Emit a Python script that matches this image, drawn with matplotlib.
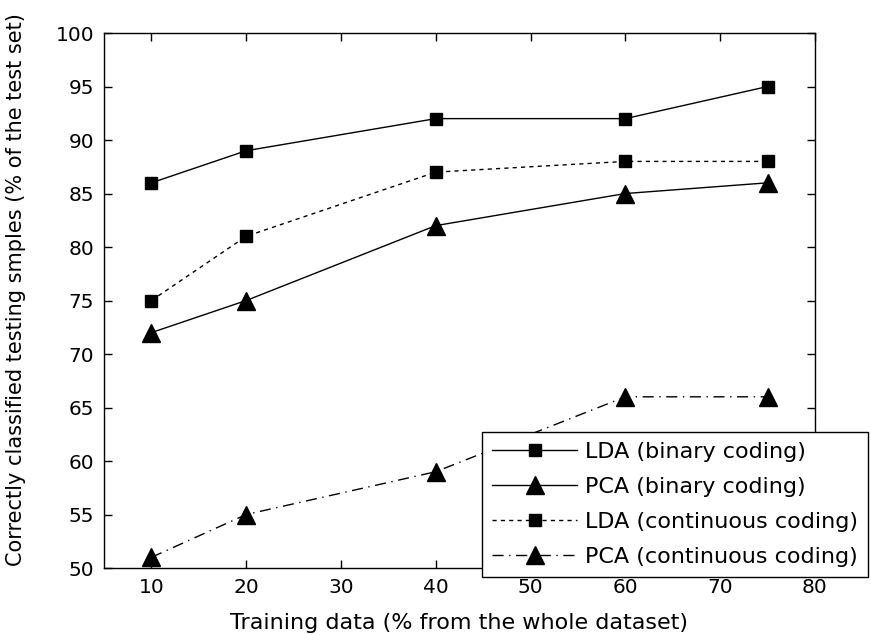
import matplotlib

matplotlib.use("Agg")
import matplotlib.pyplot as plt

# training share (% of the whole dataset)
train_pct = [10, 20, 40, 60, 75]

lda_binary = [86, 89, 92, 92, 95]
pca_binary = [72, 75, 82, 85, 86]
lda_continuous = [75, 81, 87, 88, 88]
pca_continuous = [51, 55, 59, 66, 66]

x_ticks = [10, 20, 30, 40, 50, 60, 70, 80]
y_ticks = [50, 55, 60, 65, 70, 75, 80, 85, 90, 95, 100]

plt.rcParams["font.family"] = ["DejaVu Sans"]

fig = plt.figure(figsize=(8.71, 6.35), dpi=100)
ax = fig.add_axes([0.1194, 0.1055, 0.8163, 0.8425])

ax.plot(train_pct, lda_binary, color="black", linestyle="-", linewidth=1.0,
        marker="s", markersize=9, label="LDA (binary coding)")
ax.plot(train_pct, pca_binary, color="black", linestyle="-", linewidth=1.0,
        marker="^", markersize=13, label="PCA (binary coding)")
ax.plot(train_pct, lda_continuous, color="black", linestyle=(0, (3, 3)), linewidth=1.0,
        marker="s", markersize=9, label="LDA (continuous coding)")
ax.plot(train_pct, pca_continuous, color="black", linestyle=(0, (8, 4, 1, 4)), linewidth=1.0,
        marker="^", markersize=13, label="PCA (continuous coding)")

ax.set_xlim(5, 80)
ax.set_ylim(50, 100)
ax.set_xticks(x_ticks)
ax.set_yticks(y_ticks)
ax.tick_params(direction="in", length=6, width=1, top=True, right=True,
               labelsize=14.5, colors="black", pad=7)
for spine in ax.spines.values():
    spine.set_linewidth(1.0)

ax.set_xlabel("Training data (% from the whole dataset)", fontsize=16, labelpad=12)
ax.set_ylabel("Correctly classified testing smples (% of the test set)", fontsize=15)
ax.yaxis.set_label_coords(-0.11, 0.52)

leg = ax.legend(loc="upper right", bbox_to_anchor=(0.996, 0.32),
                bbox_transform=fig.transFigure, fontsize=16, frameon=True,
                fancybox=False, edgecolor="black", framealpha=1.0,
                handlelength=3.8, handletextpad=0.35, borderpad=0.45,
                labelspacing=0.68, borderaxespad=0.0)
leg.get_frame().set_linewidth(1.0)

fig.savefig("out.png", dpi=100)
